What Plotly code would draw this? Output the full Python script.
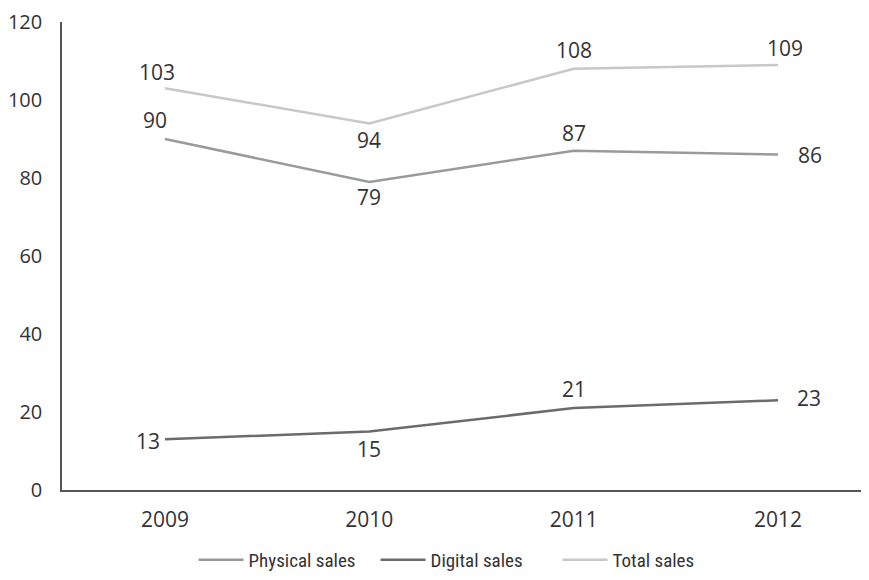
import plotly.graph_objects as go

years = ["2009", "2010", "2011", "2012"]
physical = [90, 79, 87, 86]
digital = [13, 15, 21, 23]
total = [103, 94, 108, 109]

# label offsets (pixels) for each data label: (xshift, yshift)
physical_off = [(-10, 19), (0, -15), (0, 18), (32, 0)]
digital_off = [(-17, -2), (0, -17), (0, 19), (31, 2)]
total_off = [(-8, 16), (0, -17), (0, 19), (7, 17)]

num_font = "Open Sans, Noto Sans, sans-serif"
leg_font = "Liberation Sans Narrow, Roboto Condensed, Liberation Sans, sans-serif"
text_color = "#333333"

series = [
    ("Physical sales", physical, "#9a9a9a", physical_off),
    ("Digital sales", digital, "#6b6b6b", digital_off),
    ("Total sales", total, "#c8c8c8", total_off),
]

fig = go.Figure()
annotations = []
for name, vals, color, offs in series:
    fig.add_trace(go.Scatter(
        x=years, y=vals, name=name, mode="lines",
        line=dict(color=color, width=2.5),
    ))
    for i, (v, (dx, dy)) in enumerate(zip(vals, offs)):
        annotations.append(dict(
            x=i, y=v, xref="x", yref="y", text=str(v), showarrow=False,
            xanchor="center", yanchor="middle", xshift=dx, yshift=dy,
            font=dict(size=21, color=text_color, family=num_font),
        ))

# page body has an 8px default margin, so the figure is sized to fit the window
fig.update_layout(
    width=861, height=572,
    margin=dict(l=54, r=0, t=14, b=90),
    paper_bgcolor="white", plot_bgcolor="white",
    font=dict(family=num_font, size=20, color=text_color),
    showlegend=True,
    annotations=annotations,
    legend=dict(orientation="h", x=0.163, xanchor="left",
                yref="container", y=0.035, yanchor="middle",
                font=dict(size=19, color=text_color, family=leg_font),
                entrywidth=122, entrywidthmode="pixels",
                itemwidth=45),
    xaxis=dict(type="category", range=[-0.504, 3.445], showgrid=False,
               showline=True, linecolor="#555555", linewidth=1.5,
               ticks="", automargin=False,
               tickfont=dict(size=21, color=text_color, family=num_font)),
    yaxis=dict(range=[0, 120], dtick=20, showgrid=False, zeroline=False,
               showline=True, linecolor="#555555", linewidth=1.5,
               ticks="", automargin=False,
               tickfont=dict(size=20, color=text_color, family=num_font)),
)
fig.update_yaxes(ticklabelstandoff=14)
fig.update_xaxes(ticklabelstandoff=10)

fig.write_html("out.html")
